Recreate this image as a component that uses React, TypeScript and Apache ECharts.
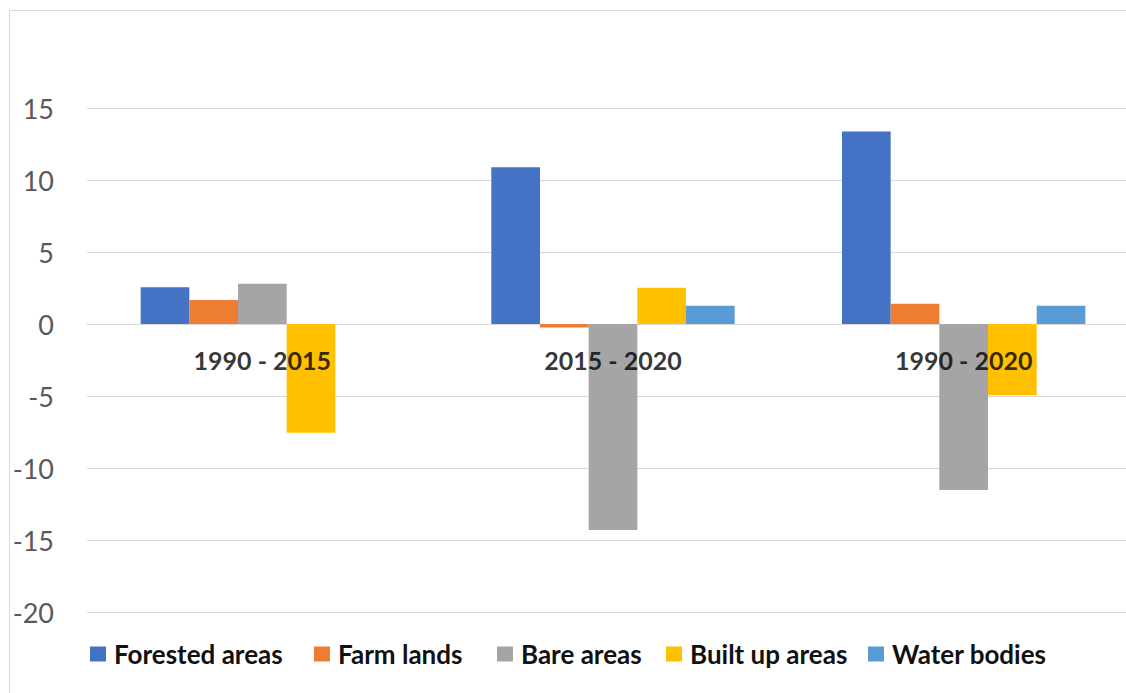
import React, { useEffect, useRef } from "react";
import * as echarts from "echarts";

const categories = ["1990 - 2015", "2015 - 2020", "1990 - 2020"];
const seriesNames = ["Forested areas", "Farm lands", "Bare areas", "Built up areas", "Water bodies"];
const forested = [2.55, 10.88, 13.36];
const farm = [1.67, -0.25, 1.41];
const bare = [2.8, -14.3, -11.53];
const built = [-7.55, 2.52, -4.95];
const water = [0, 1.27, 1.27];
const colors = ["#4472C4", "#ED7D31", "#A5A5A5", "#FFC000", "#5B9BD5"];
const yMin = -20;
const yMax = 15;
const yStep = 5;

const legendLefts = [85, 309, 492, 661, 863];

export default function App() {
  const ref = useRef<HTMLDivElement>(null);
  useEffect(() => {
    if (!ref.current) return;
    const chart = echarts.init(ref.current, undefined, { renderer: "svg" });
    const values = [forested, farm, bare, built, water];
    chart.setOption({
      animation: false,
      backgroundColor: "#ffffff",
      color: colors,
      textStyle: { fontFamily: "Lato" },
      graphic: [
        {
          type: "rect",
          shape: { x: 9.5, y: 10.5, width: 1300, height: 900 },
          style: { fill: "none", stroke: "#d9d9d9", lineWidth: 1 },
          silent: true,
        },
      ],
      grid: { left: 87, top: 108, width: 1052, height: 504, containLabel: false },
      legend: seriesNames.map((name, i) => ({
        left: legendLefts[i],
        top: 636,
        icon: "rect",
        itemWidth: 16,
        itemHeight: 15,
        data: [name],
        selectedMode: false,
        textStyle: {
          fontFamily: "Lato",
          fontWeight: "bold",
          fontSize: 26,
          color: "#111111",
          padding: [0, 0, 0, 3],
        },
      })),
      xAxis: {
        type: "category",
        data: categories,
        axisLine: { show: true, onZero: true, lineStyle: { color: "#d9d9d9", width: 1 } },
        axisTick: { show: false },
        axisLabel: { show: false },
        splitLine: { show: false },
      },
      yAxis: {
        type: "value",
        min: yMin,
        max: yMax,
        interval: yStep,
        axisLine: { show: false },
        axisTick: { show: false },
        axisLabel: {
          margin: 33,
          fontFamily: "Lato",
          fontSize: 27,
          color: "#595959",
        },
        splitLine: { show: true, lineStyle: { color: "#d9d9d9", width: 1 } },
      },
      series: [
        ...seriesNames.map((name, i) => ({
          name,
          type: "bar",
          data: values[i],
          barGap: "0%",
          barCategoryGap: "30.6%",
          itemStyle: { color: colors[i] },
        })),
        {
          name: "categoryLabels",
          type: "scatter",
          z: 20,
          silent: true,
          symbolSize: 1,
          itemStyle: { color: "rgba(0,0,0,0)" },
          data: categories.map((c) => [c, 0]),
          label: {
            show: true,
            position: "bottom",
            distance: 23,
            formatter: (p: any) => p.value[0],
            fontFamily: "Lato",
            fontWeight: "bold",
            fontSize: 25,
            color: "#000000",
          },
        },
      ],
    });
    return () => chart.dispose();
  }, []);
  return (
    <div
      style={{ position: "fixed", left: 0, top: 0, width: 1126, height: 693, overflow: "hidden" }}
    >
      <div ref={ref} style={{ width: 1160, height: 693 }} />
    </div>
  );
}
